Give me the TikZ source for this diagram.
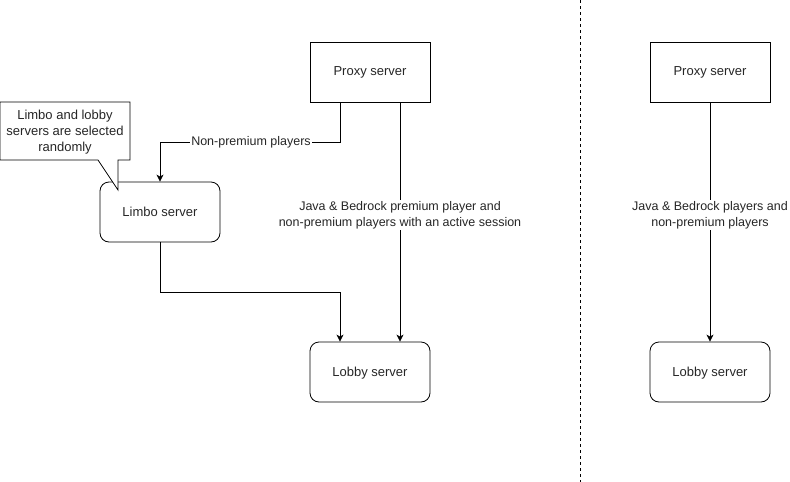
\documentclass[tikz,border=0pt]{standalone}
\usepackage{fontspec}
\setmainfont{Liberation Sans}
\usetikzlibrary{arrows.meta}
\begin{document}
\begin{tikzpicture}[x=1pt,y=-1pt,
  every node/.style={font=\fontsize{13}{16}\selectfont, text=black!85},
  server/.style={draw=black, line width=0.8pt, minimum width=120pt, minimum height=60pt, inner sep=0pt, text depth=1pt},
  roundserver/.style={server, rounded corners=9pt},
  flow/.style={draw=black, line width=0.8pt, -{Stealth[length=7pt,width=7pt,inset=2pt]}},
  edgelabel/.style={fill=white, inner sep=1pt, align=center, font=\fontsize{12.5}{16}\selectfont},
  divider/.style={draw=black, line width=0.8pt, dash pattern=on 3pt off 3pt}]
  \useasboundingbox (0,0) rectangle (790,482);

  % left scheme
  \node[server] (proxyA) at (370,72) {Proxy server};
  \node[roundserver] (limbo) at (160,212) {Limbo server};
  \node[roundserver] (lobbyA) at (370,372) {Lobby server};

  \draw[flow] ([xshift=-30pt]proxyA.south) |- (251,142)
    node[edgelabel] (nplabel) {Non-premium players} -| (limbo.north);
  \draw[flow] ([xshift=30pt]proxyA.south) -- ([xshift=30pt]lobbyA.north)
    node[pos=0.47, edgelabel] {Java \& Bedrock premium player and\\non-premium players with an active session};
  \draw[flow] (limbo.south) |- (340,292) -- ([xshift=-30pt]lobbyA.north);

  % callout note
  \draw[line width=0.8pt, fill=white] (0,102) -- (130,102) -- (130,160) -- (118,160)
    -- (118,190) -- (98,160) -- (0,160) -- cycle;
  \node[align=center] (note) at (65,132) {Limbo and lobby\\servers are selected\\randomly};

  % separator
  \coordinate (divtop) at (580,0);
  \coordinate (divbot) at (580,482);
  \draw[divider] (divtop) -- (divbot);

  % right scheme
  \node[server] (proxyB) at (710,72) {Proxy server};
  \node[roundserver] (lobbyB) at (710,372) {Lobby server};
  \draw[flow] (proxyB.south) -- (lobbyB.north)
    node[pos=0.47, edgelabel] {Java \& Bedrock players and\\non-premium players};
\end{tikzpicture}
\end{document}
